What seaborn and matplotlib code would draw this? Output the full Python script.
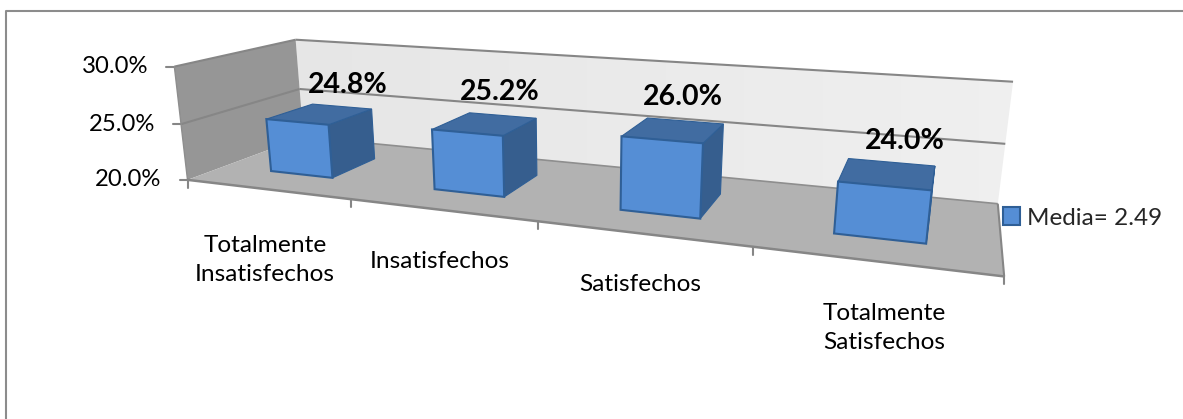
import numpy as np
import pandas as pd
import seaborn as sns
import matplotlib.pyplot as plt
from matplotlib.patches import Polygon
from matplotlib.transforms import Transform

categories = ["Totalmente\nInsatisfechos", "Insatisfechos", "Satisfechos", "Totalmente\nSatisfechos"]
values = [24.8, 25.2, 26.0, 24.0]
value_labels = ["24.8%", "25.2%", "26.0%", "24.0%"]
y_ticks = [20, 25, 30]
y_tick_labels = ["20.0%", "25.0%", "30.0%"]
legend_label = "Media= 2.49"

FRONT = "#558ed5"
TOP = "#416ca1"
SIDE = "#365e8e"
EDGE = "#2f5f96"
GRID = "#868686"
BAR_W0, BAR_W1 = 0.29, 0.70  # bar depth inside the box

sns.set_theme(style="white")
plt.rcParams["font.family"] = ["Lato", "DejaVu Sans"]

# camera of the fake 3d box, fitted on the box corners: (x, value, depth) -> pixel
corners = [
    ((-0.5, 20, 0), (188, 180)), ((-0.5, 30, 0), (174, 66)),
    ((-0.5, 30, 1), (296, 40)), ((-0.5, 20, 1), (303, 137)),
    ((3.5, 20, 0), (1004, 277)), ((3.5, 20, 1), (998, 203)),
    ((3.5, 30, 1), (1013, 82)),
]
rows = []
for (u, v, w), (px, py) in corners:
    rows.append([u, v, w, 1, 0, 0, 0, 0, -px * u, -px * v, -px * w, -px])
    rows.append([0, 0, 0, 0, u, v, w, 1, -py * u, -py * v, -py * w, -py])
camera = np.linalg.svd(np.array(rows, dtype=float))[2][-1].reshape(3, 4)


def project(u, v, w):
    h = camera @ np.array([u, v, w, 1.0])
    return h[0] / h[2], h[1] / h[2]


class FrontPlane(Transform):
    input_dims = 2
    output_dims = 2

    def __init__(self, plane_w):
        super().__init__()
        self.plane_w = plane_w

    def transform_non_affine(self, values):
        return np.array([project(a, b, self.plane_w) for a, b in values])


fig = plt.figure(figsize=(11.83, 4.19), dpi=100)
ax = fig.add_axes([0, 0, 1, 1])
df = pd.DataFrame({"categoria": categories, "valor": values})
sns.barplot(data=df, x="categoria", y="valor", color=FRONT, saturation=1, width=0.39,
            errorbar=None, edgecolor=EDGE, linewidth=1.5, label=legend_label, zorder=5, ax=ax)
ax.set_xlim(0, 1183)
ax.set_ylim(419, 0)
ax.axis("off")


def face(points, color, zorder=1, edge="none", lw=0):
    ax.add_patch(Polygon([project(*p) for p in points], closed=True, facecolor=color,
                         edgecolor=edge, linewidth=lw, zorder=zorder))


def line3d(a, b, color=GRID, lw=1.5, zorder=2):
    pa, pb = project(*a), project(*b)
    ax.plot([pa[0], pb[0]], [pa[1], pb[1]], color=color, lw=lw, zorder=zorder, solid_capstyle="butt")


# outer frame, only the top and left sides show in the picture
ax.plot([6, 6, 1183], [419, 11, 11], color="#8c8c8c", lw=1.5, zorder=1)

# walls and floor
back = Polygon([project(-0.5, 20, 1), project(-0.5, 30, 1), project(3.5, 30, 1), project(3.5, 20, 1)],
               closed=True, facecolor="none", edgecolor="none")
ax.add_patch(back)
img = ax.imshow(np.linspace(0.90, 0.935, 64).reshape(1, -1), cmap="gray", vmin=0, vmax=1, aspect="auto",
                extent=(296, 1013, 203, 40), zorder=0.5)
img.set_clip_path(back)
ax.set_xlim(0, 1183)
ax.set_ylim(419, 0)
face([(-0.5, 20, 0), (-0.5, 30, 0), (-0.5, 30, 1), (-0.5, 20, 1)], "#969696")
face([(-0.5, 20, 0), (3.5, 20, 0), (3.5, 20, 1), (-0.5, 20, 1)], "#b2b2b2")

# gridlines on the walls, with the tick stubs
for tick, label in zip(y_ticks, y_tick_labels):
    if tick > 20:
        line3d((-0.5, tick, 0), (-0.5, tick, 1))
        line3d((-0.5, tick, 1), (3.5, tick, 1))
    px, py = project(-0.5, tick, 0)
    ax.plot([px - 8, px], [py, py], color=GRID, lw=1.5, zorder=2)
    ax.text(px - 26, py, label, ha="right", va="center", fontsize=17.2, color="black")
line3d((-0.5, 20, 1), (3.5, 20, 1), color="#8e8e8e", lw=1.2)
line3d((-0.5, 20, 0), (-0.5, 30, 0), color="#8e8e8e", lw=1.0)
line3d((-0.5, 20, 0), (3.5, 20, 0), lw=1.8)
line3d((3.5, 20, 0), (3.5, 20, 1), lw=1.5)
for k in range(5):
    px, py = project(k - 0.5, 20, 0)
    ax.plot([px, px], [py, py + 8], color=GRID, lw=1.5, zorder=2)

# bars: seaborn's rectangles become the front faces, top and side are added from the same numbers
for bar, val in zip(ax.patches[:len(values)], values):
    bar.set_y(20)
    bar.set_height(val - 20)
    bar.set_transform(FrontPlane(BAR_W0) + ax.transData)
    x0, x1 = bar.get_x(), bar.get_x() + bar.get_width()
    face([(x1, 20, BAR_W0), (x1, val, BAR_W0), (x1, val, BAR_W1), (x1, 20, BAR_W1)], SIDE, 3, EDGE, 0.8)
    face([(x0, val, BAR_W0), (x1, val, BAR_W0), (x1, val, BAR_W1), (x0, val, BAR_W1)], TOP, 4, EDGE, 0.8)

label_pos = [(348, 85), (500, 92), (683, 97), (905, 141)]
for (px, py), txt in zip(label_pos, value_labels):
    ax.text(px, py, txt, ha="center", va="center", fontsize=20.5, fontweight="bold", color="black", zorder=6)

cat_pos = [(265, 260), (440, 261), (640, 284), (884, 328)]
for (px, py), cat in zip(cat_pos, categories):
    ax.text(px, py, cat, ha="center", va="center", fontsize=17.6, color="black", linespacing=1.5, zorder=6)

ax.legend(loc="center left", bbox_to_anchor=(1003, 218), bbox_transform=ax.transData, frameon=False,
          fontsize=17.5, handlelength=0.7, handleheight=0.7, handletextpad=0.3, borderpad=0, borderaxespad=0)

fig.savefig("out.png", dpi=100)
